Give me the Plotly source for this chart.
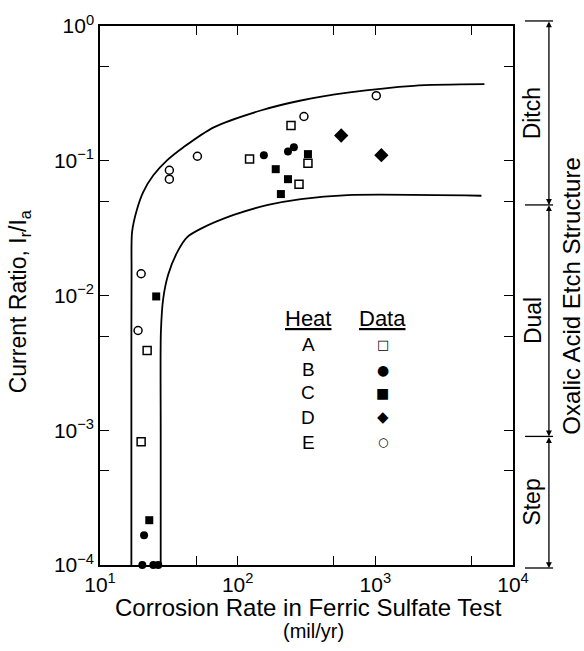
import numpy as np
import plotly.graph_objects as go

# ---- data ----
heatA_x = [122, 244, 324, 279, 22, 19.9]
heatA_y = [0.103, 0.183, 0.096, 0.067, 0.0039, 0.00082]

heatB_x = [155, 232, 256, 20.9, 20.3, 24.4, 26.5]
heatB_y = [0.11, 0.117, 0.126, 0.000166, 1e-4, 1e-4, 1e-4]

heatC_x = [324, 189, 232, 206, 25.6, 22.8]
heatC_y = [0.112, 0.0866, 0.073, 0.0566, 0.00984, 0.000215]

heatD_x = [565, 1106]
heatD_y = [0.154, 0.11]

heatE_x = [1016, 303, 51, 31.9, 31.9, 19.9, 18.9]
heatE_y = [0.304, 0.213, 0.108, 0.085, 0.073, 0.0145, 0.0055]

upper_x = [16.9, 16.9, 16.95, 17.1, 18.6, 20.6, 24.4, 30.8, 40.4, 67, 147, 288, 630, 1900, 6200]
upper_y = [1e-4, 0.003, 0.015, 0.0297, 0.0439, 0.0586, 0.078, 0.101, 0.126, 0.177, 0.236, 0.28, 0.32, 0.36, 0.37]

lower_x = [27.6, 27.6, 27.7, 28.8, 31.3, 36.5, 43.2, 53.7, 93.5, 166, 288, 630, 5900]
lower_y = [1e-4, 0.001, 0.0054, 0.0095, 0.0143, 0.0211, 0.0272, 0.0312, 0.0396, 0.047, 0.052, 0.0556, 0.055]

x_tickvals = [10, 50, 100, 500, 1000, 5000, 10000]
x_ticktext = ["10<sup>1</sup>", "", "10<sup>2</sup>", "", "10<sup>3</sup>", "", "10<sup>4</sup>"]
y_tickvals = [1e-4, 5e-4, 1e-3, 5e-3, 1e-2, 5e-2, 1e-1, 5e-1, 1]
y_ticktext = ["10<sup>\u22124</sup>", "", "10<sup>\u22123</sup>", "", "10<sup>\u22122</sup>", "",
              "10<sup>\u22121</sup>", "", "10<sup>0</sup>"]

legend_heats = ["A", "B", "C", "D", "E"]
legend_symbols = ["\u25a1", "\u25cf", "\u25a0", "\u25c6", "\u25cb"]

structure_labels = ["Ditch", "Dual", "Step"]
structure_bounds = [1.09, 0.047, 0.0009, 0.95e-4]

FONT = "Liberation Sans, Arial, Helvetica, sans-serif"
W, H = 584, 651
ML, MR, MT, MB = 100, 71, 23, 86
PH = H - MT - MB
YR = (-4, 0)
TXT = 23

fig = go.Figure()

for xs, ys in [(upper_x, upper_y), (lower_x, lower_y)]:
    fig.add_trace(go.Scatter(x=xs, y=ys, mode="lines",
                             line=dict(color="black", width=1.8, shape="spline", smoothing=0.8),
                             hoverinfo="skip", cliponaxis=False))

def pts(xs, ys, sym, size, lw=1.5):
    fig.add_trace(go.Scatter(x=xs, y=ys, mode="markers", cliponaxis=False,
                             marker=dict(symbol=sym, size=size, color="black",
                                         line=dict(color="black", width=lw))))

pts(heatA_x, heatA_y, "square-open", 8)
pts(heatB_x, heatB_y, "circle", 8, 0)
pts(heatC_x, heatC_y, "square", 8, 0)
pts(heatD_x, heatD_y, "diamond", 11, 0)
pts(heatE_x, heatE_y, "circle-open", 8)

axis_common = dict(showline=True, linecolor="black", linewidth=1.5, mirror="allticks",
                   ticks="inside", ticklen=9, tickwidth=1.3, tickcolor="black",
                   showgrid=False, zeroline=False,
                   tickfont=dict(family=FONT, size=21, color="black"))

fig.update_xaxes(type="log", range=[1, 4], tickvals=x_tickvals, ticktext=x_ticktext, **axis_common)
fig.update_yaxes(type="log", range=list(YR), tickvals=y_tickvals, ticktext=y_ticktext, **axis_common)

def ypaper(v):
    return (np.log10(v) - YR[0]) / (YR[1] - YR[0])

ann = []
# axis titles
ann.append(dict(x=0.504, y=-0.079, text="Corrosion Rate in Ferric Sulfate Test",
                font=dict(family=FONT, size=24, color="black")))
ann.append(dict(x=0.516, y=-0.122, text="(mil/yr)", font=dict(family=FONT, size=20, color="black")))
ann.append(dict(x=-0.194, y=0.489, text="Current Ratio, I<sub>r</sub>/I<sub>a</sub>", textangle=-90))
# legend
ann.append(dict(x=0.504, y=ypaper(10 ** -2.17), text="<u>Heat</u>", font=dict(family=FONT, size=22, color="black")))
ann.append(dict(x=0.685, y=ypaper(10 ** -2.17), text="<u>Data</u>", font=dict(family=FONT, size=22, color="black")))
row_y = [-2.36, -2.55, -2.72, -2.905, -3.09]
for i, (h, s) in enumerate(zip(legend_heats, legend_symbols)):
    ann.append(dict(x=0.504, y=ypaper(10 ** row_y[i]), text=h,
                    font=dict(family=FONT, size=19, color="black")))
    fs = {"\u25a1": 13, "\u25cb": 12, "\u25c6": 15}.get(s, 14)
    ann.append(dict(x=0.685, y=ypaper(10 ** row_y[i]), text=s,
                    font=dict(family="DejaVu Sans", size=fs, color="black")))
for a in ann:
    a.update(xref="paper", yref="paper", showarrow=False, xanchor="center", yanchor="middle")
    a.setdefault("font", dict(family=FONT, size=TXT, color="black"))

# right-side structure bracket
BX = 1.087
shapes = []
for b in structure_bounds:
    shapes.append(dict(type="line", xref="paper", yref="paper", x0=1.029, x1=1.097,
                       y0=ypaper(b), y1=ypaper(b), line=dict(color="black", width=1.3)))
for i, lab in enumerate(structure_labels):
    y0, y1 = ypaper(structure_bounds[i]), ypaper(structure_bounds[i + 1])
    ann.append(dict(xref="paper", yref="paper", x=BX, y=y1, ax=0, ay=-(y0 - y1) * PH,
                    axref="pixel", ayref="pixel", text="", showarrow=True,
                    arrowhead=2, arrowside="end+start", arrowsize=0.9, arrowwidth=1.3,
                    arrowcolor="black", standoff=0, startstandoff=0))
    ann.append(dict(xref="paper", yref="paper", x=1.047, y=(y0 + y1) / 2, text=lab,
                    textangle=-90, showarrow=False, xanchor="center", yanchor="middle",
                    font=dict(family=FONT, size=TXT, color="black")))
ann.append(dict(xref="paper", yref="paper", x=1.143, y=0.498, text="Oxalic Acid Etch Structure",
                textangle=-90, showarrow=False, xanchor="center", yanchor="middle",
                font=dict(family=FONT, size=24, color="black")))

fig.update_layout(width=W, height=H, margin=dict(l=ML, r=MR, t=MT, b=MB),
                  paper_bgcolor="white", plot_bgcolor="white", showlegend=False,
                  annotations=ann, shapes=shapes)

fig.write_html("out.html", config={"displayModeBar": False},
               post_script="document.body.style.margin='0';")
